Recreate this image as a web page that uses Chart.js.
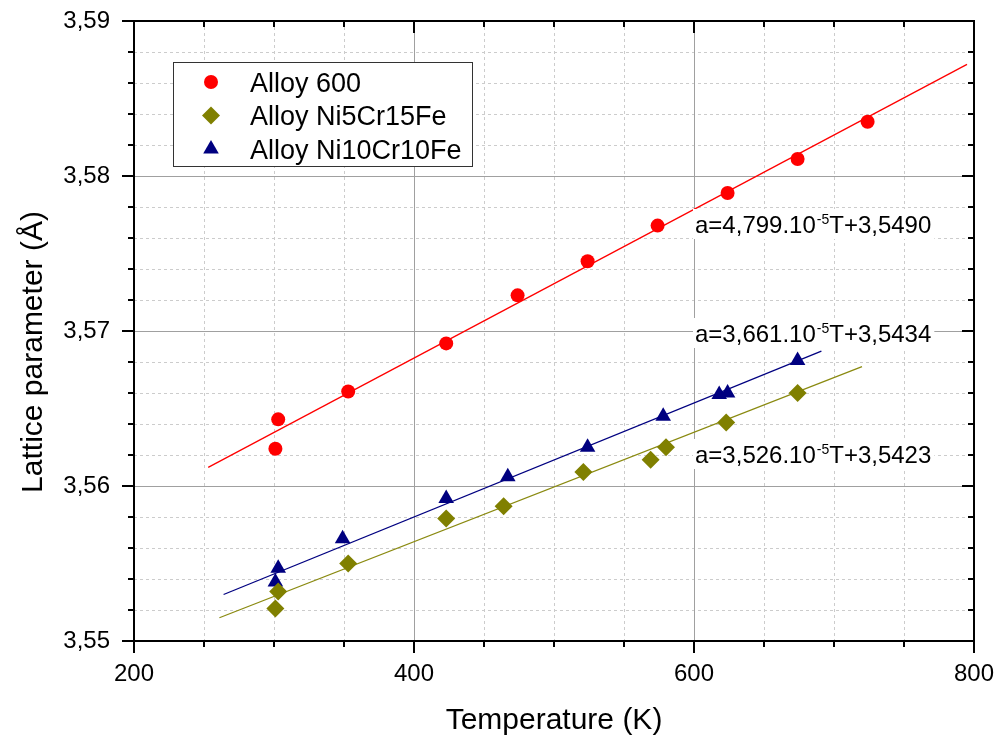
<!DOCTYPE html>
<html>
<head>
<meta charset="utf-8">
<script src="https://cdn.jsdelivr.net/npm/chart.js@4.4.0/dist/chart.umd.min.js"></script>
<style>
  html, body { margin: 0; padding: 0; background: #fff; }
  #wrap { width: 996px; height: 739px; }
</style>
</head>
<body>
<div id="wrap"><canvas id="myChart"></canvas></div>
<script>
'use strict';
// measured points, temperature (K) and lattice parameter (A)
const t600 = [301, 303, 353, 423, 474, 524, 574, 624, 674, 724];
const a600 = [3.5624, 3.5643, 3.5661, 3.5692, 3.5723, 3.5745, 3.5768, 3.5789, 3.5811, 3.5835];

const tNi5 = [301, 303, 353, 423, 464, 521, 569, 580, 623, 674];
const aNi5 = [3.5521, 3.5532, 3.5550, 3.5579, 3.5587, 3.5609, 3.5617, 3.5625, 3.5641, 3.5660];

const tNi10 = [301, 303, 349, 423, 467, 524, 578, 618, 624, 674];
const aNi10 = [3.5538, 3.5547, 3.5566, 3.5592, 3.5606, 3.5625, 3.5645, 3.5659, 3.5660, 3.5681];

// fit line end points
const fitT600 = [253, 795];
const fitA600 = [3.5612, 3.5872];
const fitTNi5 = [261, 720];
const fitANi5 = [3.5515, 3.5677];
const fitTNi10 = [264, 691];
const fitANi10 = [3.5530, 3.5687];

const seriesNames = ['Alloy 600', 'Alloy Ni5Cr15Fe', 'Alloy Ni10Cr10Fe'];
// equation labels: [coefficient, intercept]
const eqLabels = [['4,799', '3,5490'], ['3,661', '3,5434'], ['3,526', '3,5423']];

const RED = '#ff0000';
const OLIVE = '#808000';
const NAVY = '#000080';
const FONT = '"Liberation Sans", Arial, sans-serif';

const pts = (xs, ys) => xs.map((v, i) => ({ x: v, y: ys[i] }));

const data = {
  datasets: [
    { label: seriesNames[0], data: pts(t600, a600), pointStyle: 'circle', pointRadius: 7,
      backgroundColor: RED, borderColor: RED, borderWidth: 0, showLine: false },
    { label: seriesNames[1], data: pts(tNi5, aNi5), pointStyle: 'rectRot', pointRadius: 9,
      backgroundColor: OLIVE, borderColor: OLIVE, borderWidth: 0, showLine: false },
    { label: seriesNames[2], data: pts(tNi10, aNi10), pointStyle: 'triangle', pointRadius: 9,
      backgroundColor: NAVY, borderColor: NAVY, borderWidth: 0, showLine: false },
    { label: 'fit600', data: pts(fitT600, fitA600), showLine: true, pointRadius: 0,
      borderColor: RED, borderWidth: 1.3 },
    { label: 'fitNi5', data: pts(fitTNi5, fitANi5), showLine: true, pointRadius: 0,
      borderColor: '#8a8a10', borderWidth: 1.3 },
    { label: 'fitNi10', data: pts(fitTNi10, fitANi10), showLine: true, pointRadius: 0,
      borderColor: NAVY, borderWidth: 1.3 },
  ],
};

// grid, frame and tick marks (minor dashed, major solid)
const framePlugin = {
  id: 'frame',
  beforeDatasetsDraw(chart) {
    const { ctx, chartArea: a, scales: { x, y } } = chart;
    ctx.save();
    ctx.lineWidth = 1;
    const xs = [];
    for (let i = 0; i <= 12; i++) xs.push({ v: 200 + i * 50, major: i % 4 === 0 });
    const ys = [];
    for (let i = 0; i <= 20; i++) ys.push({ v: 3.55 + i * 0.002, major: i % 5 === 0 });

    ctx.strokeStyle = '#cccccc';
    ctx.setLineDash([3, 3]);
    xs.filter(t => !t.major).forEach(t => {
      const p = Math.round(x.getPixelForValue(t.v)) + 0.5;
      ctx.beginPath(); ctx.moveTo(p, a.top); ctx.lineTo(p, a.bottom); ctx.stroke();
    });
    ys.filter(t => !t.major).forEach(t => {
      const p = Math.round(y.getPixelForValue(t.v)) + 0.5;
      ctx.beginPath(); ctx.moveTo(a.left, p); ctx.lineTo(a.right, p); ctx.stroke();
    });
    ctx.setLineDash([]);
    ctx.strokeStyle = '#a0a0a0';
    xs.filter(t => t.major).forEach(t => {
      const p = Math.round(x.getPixelForValue(t.v)) + 0.5;
      ctx.beginPath(); ctx.moveTo(p, a.top); ctx.lineTo(p, a.bottom); ctx.stroke();
    });
    ys.filter(t => t.major).forEach(t => {
      const p = Math.round(y.getPixelForValue(t.v)) + 0.5;
      ctx.beginPath(); ctx.moveTo(a.left, p); ctx.lineTo(a.right, p); ctx.stroke();
    });

    // ticks: bottom/left outward, top/right inward
    ctx.strokeStyle = '#000';
    ctx.lineWidth = 2;
    xs.forEach(t => {
      const p = Math.round(x.getPixelForValue(t.v));
      const len = t.major ? 12 : 6;
      ctx.beginPath();
      ctx.moveTo(p, a.bottom); ctx.lineTo(p, a.bottom + len);
      ctx.moveTo(p, a.top); ctx.lineTo(p, a.top + len);
      ctx.stroke();
    });
    ys.forEach(t => {
      const p = Math.round(y.getPixelForValue(t.v));
      const len = t.major ? 12 : 6;
      ctx.beginPath();
      ctx.moveTo(a.left, p); ctx.lineTo(a.left - len, p);
      ctx.moveTo(a.right, p); ctx.lineTo(a.right - len, p);
      ctx.stroke();
    });
    ctx.strokeRect(a.left, a.top, a.right - a.left, a.bottom - a.top);

    // y title
    ctx.fillStyle = '#000';
    ctx.font = '30px ' + FONT;
    ctx.translate(42, 352);
    ctx.rotate(-Math.PI / 2);
    ctx.textAlign = 'center';
    ctx.textBaseline = 'alphabetic';
    ctx.fillText('Lattice parameter (\u00c5)', 0, 0);
    ctx.restore();
  },
  afterDatasetsDraw(chart) {
    const { ctx } = chart;
    ctx.save();
    // equation labels with white background
    const eqPos = [[695, 233], [695, 342], [695, 463]];
    eqLabels.forEach((e, i) => {
      const [lx, ly] = eqPos[i];
      const p1 = 'a=' + e[0] + '.10';
      const p2 = '-5';
      const p3 = 'T+' + e[1];
      ctx.font = '24px ' + FONT;
      const w1 = ctx.measureText(p1).width;
      const w3 = ctx.measureText(p3).width;
      ctx.font = '14px ' + FONT;
      const w2 = ctx.measureText(p2).width;
      ctx.fillStyle = '#fff';
      ctx.fillRect(lx - 2, ly - 24, w1 + w2 + w3 + 6, 30);
      ctx.fillStyle = '#000';
      ctx.textBaseline = 'alphabetic';
      ctx.textAlign = 'left';
      ctx.font = '24px ' + FONT;
      ctx.fillText(p1, lx, ly);
      ctx.font = '14px ' + FONT;
      ctx.fillText(p2, lx + w1 + 1, ly - 9);
      ctx.font = '24px ' + FONT;
      ctx.fillText(p3, lx + w1 + w2 + 1, ly);
    });

    // legend box
    ctx.fillStyle = '#fff';
    ctx.fillRect(173.5, 62.5, 299, 104);
    ctx.strokeStyle = '#333';
    ctx.lineWidth = 1;
    ctx.strokeRect(173.5, 62.5, 299, 104);
    const rows = [82, 115.5, 149];
    chart.data.datasets.slice(0, 3).forEach((ds, i) => {
      ctx.fillStyle = ds.backgroundColor;
      ctx.strokeStyle = ds.borderColor;
      Chart.helpers.drawPoint(ctx, { pointStyle: ds.pointStyle, radius: ds.pointRadius, rotation: 0, borderWidth: 0 }, 211, rows[i]);
      ctx.fillStyle = '#000';
      ctx.font = '27px ' + FONT;
      ctx.textAlign = 'left';
      ctx.textBaseline = 'alphabetic';
      ctx.fillText(ds.label, 250, rows[i] + 9.5);
    });
    ctx.restore();
  },
};

const config = {
  type: 'scatter',
  data: data,
  options: {
    responsive: true,
    maintainAspectRatio: false,
    animation: false,
    layout: { padding: { left: 0, top: 21, right: 22, bottom: 0 } },
    plugins: { legend: { display: false }, tooltip: { enabled: false } },
    scales: {
      x: {
        type: 'linear', min: 200, max: 800,
        grid: { display: false, drawTicks: false },
        border: { display: false },
        ticks: { stepSize: 200, padding: 19, color: '#000', font: { size: 24, family: FONT } },
        title: { display: true, text: 'Temperature (K)', color: '#000', padding: 0,
          font: { size: 30, family: FONT } },
        afterFit: s => { s.height = 98; s.paddingLeft = 0; s.paddingRight = 0; },
      },
      y: {
        type: 'linear', min: 3.55, max: 3.59,
        grid: { display: false, drawTicks: false },
        border: { display: false },
        ticks: { stepSize: 0.01, padding: 24, color: '#000', font: { size: 24, family: FONT },
          callback: v => v.toFixed(2).replace('.', ',') },
        afterFit: s => { s.width = 134; s.paddingTop = 0; s.paddingBottom = 0; },
      },
    },
  },
  plugins: [framePlugin],
};

const myChart = new Chart(document.getElementById('myChart'), config);
</script>
</body>
</html>
